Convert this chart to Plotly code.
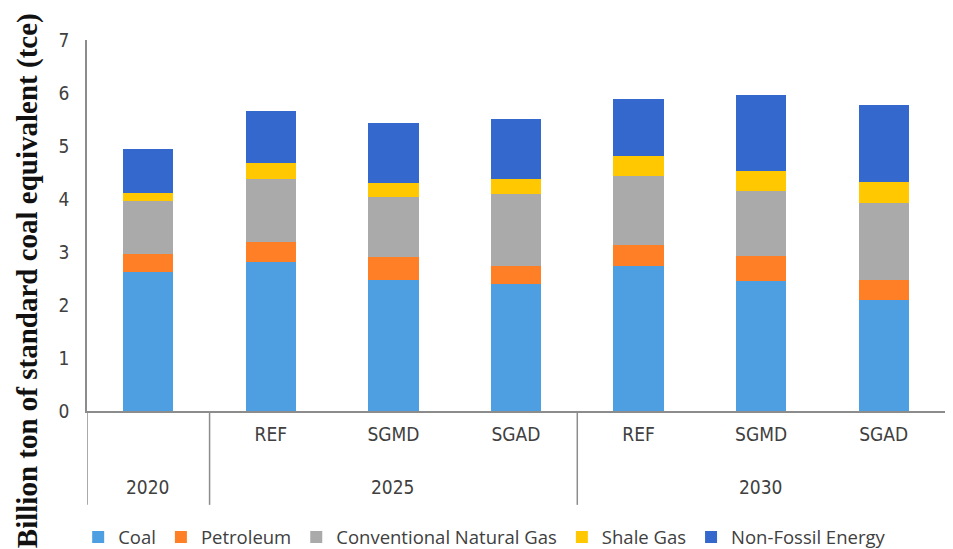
import plotly.graph_objects as go

years = ["2020", "2025", "2025", "2025", "2030", "2030", "2030"]
scenarios = ["", "REF", "SGMD", "SGAD", "REF", "SGMD", "SGAD"]
year_groups = ["2020", "2025", "2030"]

series_names = ["Coal", "Petroleum", "Conventional Natural Gas", "Shale Gas", "Non-Fossil Energy"]
coal = [2.62, 2.81, 2.48, 2.40, 2.74, 2.45, 2.09]
petroleum = [0.34, 0.37, 0.43, 0.34, 0.39, 0.48, 0.39]
conv_gas = [1.01, 1.20, 1.13, 1.35, 1.30, 1.22, 1.44]
shale_gas = [0.15, 0.29, 0.26, 0.29, 0.38, 0.38, 0.41]
non_fossil = [0.82, 0.99, 1.13, 1.13, 1.08, 1.44, 1.44]

colors = ["#4E9FE2", "#FF7F27", "#AAAAAA", "#FFC800", "#3468CC"]

xpos = list(range(len(scenarios)))
fig = go.Figure()
for name, vals, col in zip(series_names, [coal, petroleum, conv_gas, shale_gas, non_fossil], colors):
    fig.add_trace(go.Bar(x=xpos, y=vals, name=name, marker=dict(color=col, line=dict(width=0))))

tick_font = dict(family="DejaVu Sans Condensed, Liberation Sans Narrow, Arial", size=19, color="#404040")

fig.update_layout(
    barmode="stack",
    bargap=0.59,
    width=953, height=549,
    margin=dict(l=87, r=8, t=40, b=138, pad=0, autoexpand=False),
    plot_bgcolor="white", paper_bgcolor="white",
    showlegend=True,
    legend=dict(orientation="h", x=0.4635, xanchor="center", y=-0.392, yanchor="bottom",
                font=dict(family="Open Sans, Noto Sans, Arial", size=18.5, color="#404040"),
                itemwidth=30, traceorder="normal", tracegroupgap=0),
    xaxis=dict(range=[-0.5, 6.5], tickmode="array", tickvals=xpos, ticktext=scenarios,
               showline=True, linecolor="#8C8C8C", linewidth=1.5, ticks="", showgrid=False,
               zeroline=False, tickfont=tick_font, ticklabelstandoff=5, automargin=False),
    yaxis=dict(range=[0, 7], dtick=1, showline=True, linecolor="#8C8C8C", linewidth=1.5,
               showgrid=False, zeroline=False, ticks="", tickfont=tick_font, ticklabelstandoff=12,
               automargin=False),
)

# outer year labels
group_centers = {}
for i, y in enumerate(years):
    group_centers.setdefault(y, []).append(i)
for g in year_groups:
    idx = group_centers[g]
    fig.add_annotation(x=sum(idx) / len(idx), xref="x", y=-0.205, yref="paper",
                       text=g, showarrow=False, font=tick_font, yanchor="middle")

# dividers between year groups and left axis extension
div_positions = [-0.5]
for i in range(1, len(years)):
    if years[i] != years[i - 1]:
        div_positions.append(i - 0.5)
for xp in div_positions:
    fig.add_shape(type="line", x0=xp, x1=xp, xref="x", y0=0, y1=-0.253, yref="paper",
                  line=dict(color="#8C8C8C", width=1.5))

fig.add_annotation(x=0, xref="paper", xshift=-60, y=0.35, yref="paper",
                   text="<b>Billion ton of standard coal equivalent (tce)</b>", textangle=-90,
                   showarrow=False, xanchor="center", yanchor="middle",
                   font=dict(family="Liberation Serif, Times New Roman, serif", size=29, color="#111111"))

fig.write_html("out.html", config={"displayModeBar": False},
               post_script="document.body.style.margin='0';document.body.style.overflow='hidden';")
